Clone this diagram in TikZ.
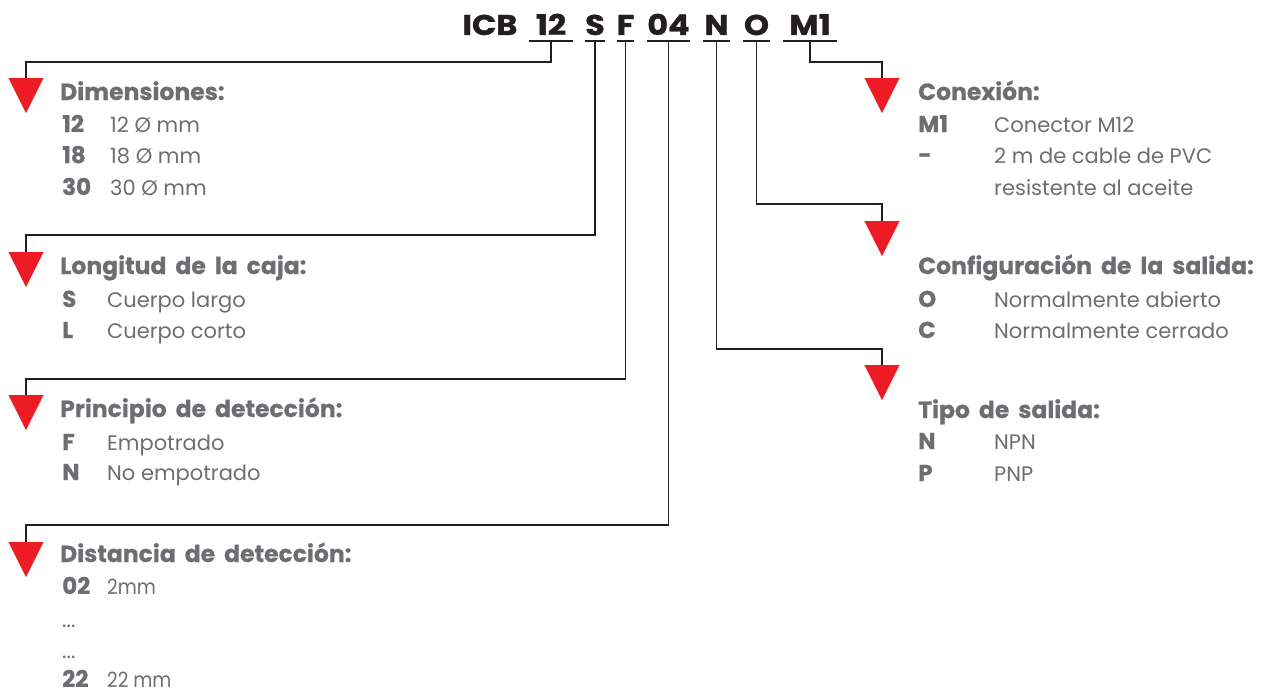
\documentclass[tikz,border=0pt]{standalone}
\usepackage{fontspec}
\setmainfont{Poppins}[BoldFeatures={FakeBold=0.6,WordSpace=1.8}]
\newfontfamily\condfont{Poppins}[FakeStretch=0.88]
\newfontfamily\titlefont{Poppins}[BoldFeatures={FakeBold=1.2,FakeStretch=1.12}]
\usetikzlibrary{shapes.geometric}
\definecolor{txt}{HTML}{6D6E71}
\definecolor{ink}{HTML}{231F20}
\definecolor{redtri}{HTML}{ED1C24}
\begin{document}
\begin{tikzpicture}[x=1pt,y=-1pt,
 tri/.style={isosceles triangle, isosceles triangle stretches, shape border rotate=270,
   minimum width=35pt, minimum height=35pt, inner sep=0pt, fill=redtri, draw=none, anchor=north},
 head/.style={anchor=base west, inner sep=0pt, text=txt, font=\fontsize{23.5}{28}\selectfont\bfseries},
 key/.style={anchor=base west, inner sep=0pt, text=txt, font=\fontsize{23}{27}\selectfont\bfseries},
 val/.style={anchor=base west, inner sep=0pt, text=txt, font=\fontsize{21}{25}\selectfont},
 cval/.style={anchor=base west, inner sep=0pt, text=txt, font=\fontsize{21}{25}\selectfont\condfont},
 code/.style={anchor=base, inner sep=0pt, text=ink, font=\fontsize{28.5}{32}\selectfont\titlefont\bfseries},
 uline/.style={draw=ink, line width=2.5pt},
 conn/.style={draw=ink, line width=1.4pt}]
\useasboundingbox (0,0) rectangle (1264,693);

% title code
\node[code] (ticb) at (490,35) {ICB};
\node[code, minimum width=44pt] (t12) at (551,35) {12};
\node[code, minimum width=20pt] (tS) at (595,35) {S};
\node[code, minimum width=17pt] (tF) at (625.5,35) {F};
\node[code, minimum width=43pt] (t04) at (668.5,35) {04};
\node[code, minimum width=27pt] (tN) at (716.5,35) {N};
\node[code, minimum width=27pt] (tO) at (756.5,35) {O};
\node[code, minimum width=54pt] (tM) at (810,35) {M1};
\foreach \n in {t12,tS,tF,t04,tN,tO,tM}{
  \draw[uline] ([yshift=-6pt]\n.base west) -- ([yshift=-6pt]\n.base east);
  \coordinate (u\n) at ([yshift=-6pt]\n.base);
}

% triangles
\node[tri] (a12) at (26,78) {};
\node[tri] (aS) at (26,252) {};
\node[tri] (aF) at (26,395) {};
\node[tri] (a04) at (26,542) {};
\node[tri] (aM) at (882,78) {};
\node[tri] (aO) at (882,221) {};
\node[tri] (aN) at (882,365) {};

% connectors
\draw[conn] (ut12) -- ++(0,21) -| (a12.north);
\draw[conn] (utS) -- ++(0,194) -| (aS.north);
\draw[conn] (utF) -- ++(0,338) -| (aF.north);
\draw[conn] (ut04) -- ++(0,484) -| (a04.north);
\draw[conn] (utM) -- ++(0,21) -| (aM.north);
\draw[conn] (utO) -- ++(0,163) -| (aO.north);
\draw[conn] (utN) -- ++(0,308) -| (aN.north);

% Dimensiones
\node[head] (hd) at (60,100) {Dimensiones:};
\node[key] (kd1) at (62,132) {12};
\node[val] (vd1) at (110,132) {12 Ø mm};
\node[key] (kd2) at (62,163) {18};
\node[val] (vd2) at (110,163) {18 Ø mm};
\node[key] (kd3) at (62,195) {30};
\node[val] (vd3) at (110,195) {30 Ø mm};

% Longitud
\node[head] (hl) at (60,274) {Longitud de la caja:};
\node[key] (kl1) at (62,307) {S};
\node[val] (vl1) at (107,307) {Cuerpo largo};
\node[key] (kl2) at (62,338) {L};
\node[val] (vl2) at (107,338) {Cuerpo corto};

% Principio
\node[head] (hp) at (60,417) {Principio de detección:};
\node[key] (kp1) at (62,450) {F};
\node[val] (vp1) at (107,450) {Empotrado};
\node[key] (kp2) at (62,480) {N};
\node[val] (vp2) at (107,480) {No empotrado};

% Distancia
\node[head] (hs) at (60,562) {Distancia de detección:};
\node[key] (ks1) at (62,594) {02};
\node[cval] (vs1) at (107,594) {2mm};
\node[val] (ks2) at (62,627) {...};
\node[val] (ks3) at (62,658) {...};
\node[key] (ks4) at (62,687) {22};
\node[cval] (vs4) at (107,687) {22 mm};

% Conexion
\node[head] (hc) at (918,100) {Conexión:};
\node[key] (kc1) at (918,132) {M1};
\node[val] (vc1) at (994,132) {Conector M12};
\node[key] (kc2) at (918,163) {-};
\node[val] (vc2) at (994,163) {2 m de cable de PVC};
\node[val] (vc3) at (994,195) {resistente al aceite};

% Configuracion
\node[head] (hg) at (918,274) {Configuración de la salida:};
\node[key] (kg1) at (918,307) {O};
\node[val] (vg1) at (994,307) {Normalmente abierto};
\node[key] (kg2) at (918,338) {C};
\node[val] (vg2) at (994,338) {Normalmente cerrado};

% Tipo
\node[head] (ht) at (918,418) {Tipo de salida:};
\node[key] (kt1) at (918,449) {N};
\node[val] (vt1) at (994,449) {NPN};
\node[key] (kt2) at (918,481) {P};
\node[val] (vt2) at (994,481) {PNP};
\end{tikzpicture}
\end{document}
